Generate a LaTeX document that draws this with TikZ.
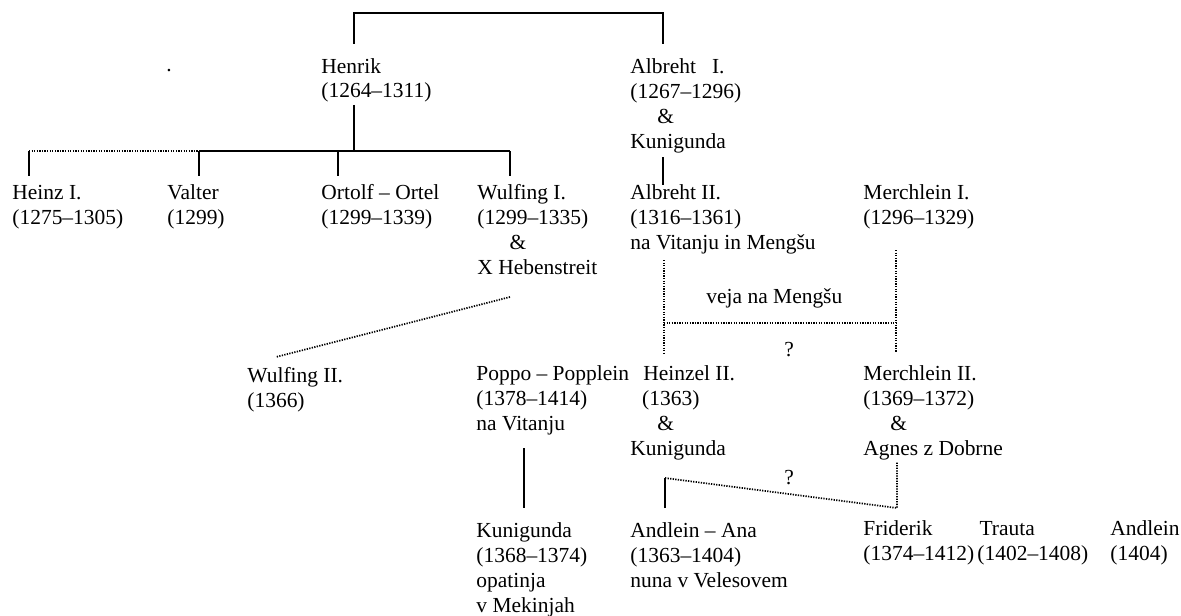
\documentclass[tikz,border=0pt]{standalone}
\usepackage{fontspec}
\setmainfont{Liberation Serif}
\usetikzlibrary{positioning}

\begin{document}
\begin{tikzpicture}[x=0.466pt,y=-0.466pt,
  % rodovnik: osebe (sidro na zadnji vrstici), zveze in negotove zveze
  person/.style={anchor=base west,inner sep=0pt,align=left,
    font=\fontsize{10}{11.65}\selectfont},
  note/.style={inner sep=0pt,font=\fontsize{10}{11.65}\selectfont},
  link/.style={line width=0.9pt},
  guess/.style={line width=0.8pt,dash pattern=on 0.6pt off 0.6pt}]
  \useasboundingbox (0,0) rectangle (1181,615);

  \node[note,anchor=base] (dot) at (169,72) {.};

  \node[person] (henrik) at (321,98) {Henrik\\(1264--1311)};
  \node[person] (albrehtI) at (630,148) {Albreht\ \ \ I.\\(1267--1296)\\\hspace*{12.6pt}\&\\Kunigunda};

  \node[person] (heinzI) at (12,224) {Heinz I.\\(1275--1305)};
  \node[person] (valter) at (167,224) {Valter\\(1299)};
  \node[person] (ortolf) at (321,224) {Ortolf -- Ortel\\(1299--1339)};
  \node[person] (wulfingI) at (477,274) {Wulfing I.\\(1299--1335)\\\hspace*{15pt}\&\\X Hebenstreit};
  \node[person] (albrehtII) at (630,249) {Albreht II.\\(1316--1361)\\na Vitanju in Mengšu};
  \node[person] (merchleinI) at (863,224) {Merchlein I.\\(1296--1329)};

  \node[person] (wulfingII) at (247,407) {Wulfing II.\\(1366)};
  \node[person] (poppo) at (476,430) {Poppo -- Popplein\\(1378--1414)\\na Vitanju};
  \node[person] (heinzel) at (630,455) {\hspace*{6pt}Heinzel II.\\\hspace*{5.5pt}(1363)\\\hspace*{12.6pt}\&\\Kunigunda};
  \node[person] (merchleinII) at (863,455) {Merchlein II.\\(1369--1372)\\\hspace*{12.6pt}\&\\Agnes z Dobrne};

  \node[person] (kunigunda) at (476,612) {Kunigunda\\(1368--1374)\\opatinja\\v Mekinjah};
  \node[person] (andlein) at (630,587) {Andlein -- Ana\\(1363--1404)\\nuna v Velesovem};
  \node[person] (friderik) at (863,560) {Friderik\\(1374--1412)};
  \node[person] (trauta) at (977,560) {\hspace*{1pt}Trauta\\(1402--1408)};
  \node[person] (andleinB) at (1110,560) {Andlein\\(1404)};

  \node[person] (veja) at (706,303) {veja na Mengšu};
  \node[note] (qa) at (789,350) {?};
  \node[note] (qb) at (789,478) {?};

  % vozlišča zvez
  \coordinate (topH) at (354,44);
  \coordinate (topA) at (663,44);
  \coordinate (stemH) at (354,105);
  \coordinate (barH) at (354,151);
  \coordinate (dropHeinz) at (29,176);
  \coordinate (dropValter) at (199,176);
  \coordinate (dropOrtolf) at (338,176);
  \coordinate (dropWulfing) at (510,176);
  \coordinate (stemA) at (663,157);
  \coordinate (endA) at (663,185);
  \coordinate (mengL) at (664,260);
  \coordinate (mengR) at (896,250);
  \coordinate (mengLB) at (664,353);
  \coordinate (mengRB) at (896,353);
  \coordinate (wulfA) at (510,297);
  \coordinate (wulfB) at (276,357);
  \coordinate (poppoA) at (524,448);
  \coordinate (poppoB) at (524,508);
  \coordinate (andC) at (665,478);
  \coordinate (andB) at (665,508);
  \coordinate (agnA) at (897,462);
  \coordinate (agnB) at (897,508);

  \draw[link] (topH) |- (663,13) -- (topA);
  \draw[link] (stemH) -- (barH);
  \draw[link] (dropValter |- barH) -- (dropWulfing |- barH);
  \draw[guess] (dropHeinz |- barH) -- (dropValter |- barH);
  \foreach \d in {dropHeinz,dropValter,dropOrtolf,dropWulfing}
    \draw[link] (\d |- barH) -- (\d);
  \draw[link] (stemA) -- (endA);

  \draw[guess] (mengL) -- (mengLB);
  \draw[guess] (mengR) -- (mengRB);
  \draw[guess] (mengL |- 0,323) -- (mengR |- 0,323);
  \draw[guess] (wulfA) -- (wulfB);

  \draw[link] (poppoA) -- (poppoB);
  \draw[link] (andB) -- (andC);
  \draw[guess] (andC) -- (agnB) -- (agnA);
\end{tikzpicture}
\end{document}
